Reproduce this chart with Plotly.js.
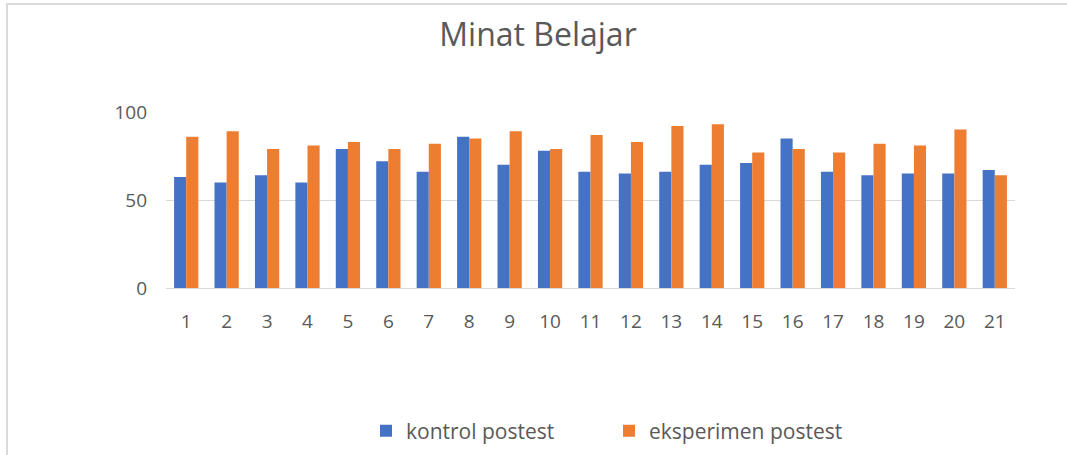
<!DOCTYPE html>
<html>
<head>
<meta charset="utf-8">
<script src="https://cdn.plot.ly/plotly-3.0.1.min.js"></script>
<style>
  html, body { margin: 0; padding: 0; background: #fff; }
  #frame { position: absolute; left: 6px; top: 3px; width: 1061px; height: 452px;
           border-top: 2px solid #d9d9d9; border-left: 2px solid #d9d9d9; box-sizing: border-box; pointer-events: none; }
  #chart { width: 1067px; height: 455px; }
</style>
</head>
<body>
<div id="chart"></div>
<div id="frame"></div>
<script>
const categories = ["1","2","3","4","5","6","7","8","9","10","11","12","13","14","15","16","17","18","19","20","21"];
const kontrolPostest = [63, 60, 64, 60, 79, 72, 66, 86, 70, 78, 66, 65, 66, 70, 71, 85, 66, 64, 65, 65, 67];
const eksperimenPostest = [86, 89, 79, 81, 83, 79, 82, 85, 89, 79, 87, 83, 92, 93, 77, 79, 77, 82, 81, 90, 64];
const yTicks = [0, 50, 100];

const font = "'Open Sans', 'Noto Sans', sans-serif";
const grey = "#595959";

const traces = [
  { type: "bar", name: "kontrol postest", x: categories, y: kontrolPostest,
    marker: { color: "#4472C4" }, hoverinfo: "x+y+name" },
  { type: "bar", name: "eksperimen postest", x: categories, y: eksperimenPostest,
    marker: { color: "#ED7D31" }, hoverinfo: "x+y+name" }
];

const layout = {
  width: 1067, height: 455,
  margin: { l: 166, r: 52, t: 112, b: 167, pad: 0 },
  paper_bgcolor: "#ffffff", plot_bgcolor: "#ffffff",
  font: { family: font, color: grey, size: 19 },
  title: { text: "Minat Belajar", font: { family: font, size: 32, color: grey },
           xref: "container", x: 538/1067, xanchor: "center",
           yref: "container", y: 1 - 35/455, yanchor: "middle" },
  barmode: "group", bargap: 0.4, bargroupgap: 0,
  xaxis: { type: "category", showgrid: false, zeroline: false, showline: false,
           ticks: "", ticklabelstandoff: 20, tickfont: { size: 19, color: grey } },
  yaxis: { range: [0, 100], tickvals: yTicks, ticktext: yTicks.map(String),
           showgrid: true, gridcolor: "#d9d9d9", gridwidth: 1,
           zeroline: true, zerolinecolor: "#d9d9d9", zerolinewidth: 1,
           showline: false, ticks: "", ticklabelstandoff: 18,
           tickfont: { size: 19, color: grey } },
  showlegend: true,
  legend: { orientation: "h", xref: "container", x: 366/1067, xanchor: "left",
            yref: "container", y: 24/455, yanchor: "middle",
            entrywidth: 198, entrywidthmode: "pixels",
            font: { family: font, size: 21, color: grey }, itemwidth: 30,
            traceorder: "normal" }
};

Plotly.newPlot("chart", traces, layout, { displayModeBar: false, staticPlot: true });
</script>
</body>
</html>
